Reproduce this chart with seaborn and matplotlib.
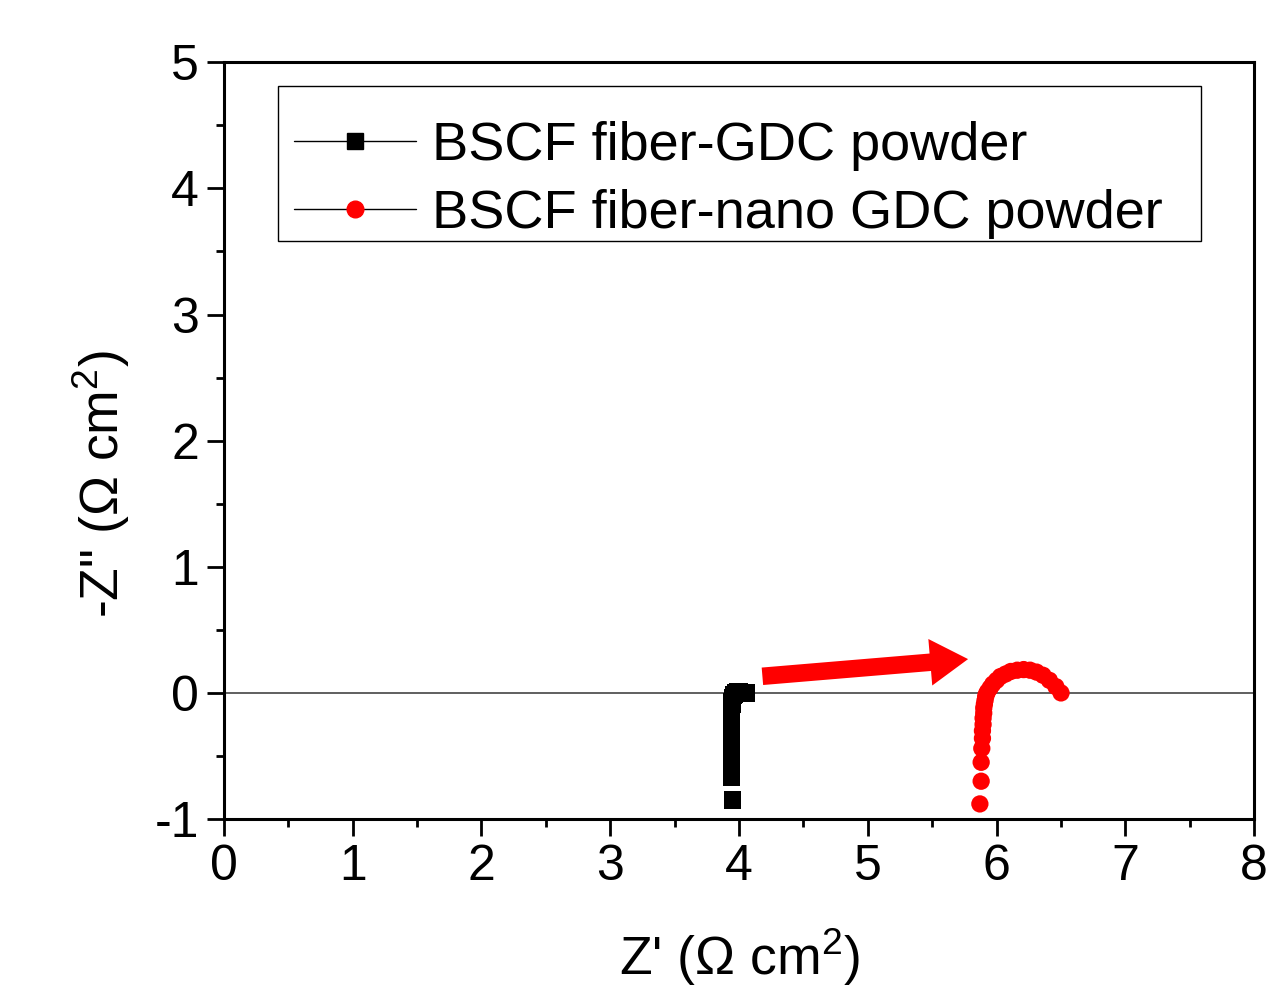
import numpy as np
import pandas as pd
import matplotlib
matplotlib.use("Agg")
import matplotlib.pyplot as plt
import seaborn as sns
from matplotlib.lines import Line2D
from matplotlib.patches import Rectangle
from matplotlib.ticker import MultipleLocator

# =====================================================
# Data
# =====================================================

gdc_x = [3.95, 3.94, 3.94, 3.94, 3.94, 3.94, 3.94, 3.94, 3.94, 3.94,
         3.94, 3.94, 3.94, 3.945, 3.945, 3.95, 3.95, 3.955, 3.96, 3.97,
         3.98, 3.99, 4.00, 4.02, 4.04, 4.06]
gdc_y = [-0.85, -0.67, -0.55, -0.48, -0.42, -0.37, -0.32, -0.28, -0.24, -0.20,
         -0.17, -0.14, -0.11, -0.09, -0.07, -0.05, -0.035, -0.02, -0.01, 0.0,
         0.005, 0.008, 0.008, 0.006, 0.004, 0.0]

nano_x = [5.87, 5.88, 5.88, 5.885, 5.89, 5.89, 5.895, 5.895, 5.90, 5.90,
          5.905, 5.91, 5.915, 5.92, 5.93, 5.95, 5.97, 6.00, 6.03, 6.07,
          6.11, 6.16, 6.21, 6.26, 6.31, 6.36, 6.41, 6.46, 6.50]
nano_y = [-0.88, -0.70, -0.55, -0.44, -0.36, -0.30, -0.25, -0.20, -0.16, -0.12,
          -0.09, -0.06, -0.03, -0.01, 0.01, 0.04, 0.07, 0.10, 0.13, 0.15,
          0.17, 0.18, 0.185, 0.18, 0.165, 0.14, 0.10, 0.05, 0.0]

labels = ["BSCF fiber-GDC powder", "BSCF fiber-nano GDC powder"]

arrow_start = (4.16, 0.13)
arrow_end = (5.80, 0.27)

df = pd.concat([
    pd.DataFrame({"x": gdc_x, "y": gdc_y, "sample": labels[0]}),
    pd.DataFrame({"x": nano_x, "y": nano_y, "sample": labels[1]}),
])

# =====================================================
# Plot
# =====================================================

sns.set_style("ticks")
plt.rcParams["font.family"] = ["Liberation Sans", "DejaVu Sans"]
plt.rcParams["mathtext.default"] = "regular"
plt.rcParams["axes.unicode_minus"] = False
plt.rcParams["text.color"] = "black"
plt.rcParams["xtick.color"] = "black"
plt.rcParams["ytick.color"] = "black"
plt.rcParams["axes.labelcolor"] = "black"

fig = plt.figure(figsize=(12.72, 9.88), dpi=100)
ax = fig.add_axes([0.176, 0.171, 0.810, 0.766])

ax.axhline(0, color="#444444", lw=1.2, zorder=1)

palette = {labels[0]: "black", labels[1]: "red"}
markers = {labels[0]: "s", labels[1]: "o"}
sns.scatterplot(data=df, x="x", y="y", hue="sample", style="sample",
                palette=palette, markers=markers, s=155, linewidth=0,
                legend=False, ax=ax, zorder=3)

ax.annotate("", xy=arrow_end, xytext=arrow_start,
            arrowprops=dict(arrowstyle="simple,head_length=1.3,head_width=1.6,tail_width=0.6",
                            color="red", lw=0, mutation_scale=21))

ax.set_xlim(0, 8)
ax.set_ylim(-1, 5)
ax.xaxis.set_major_locator(MultipleLocator(1))
ax.xaxis.set_minor_locator(MultipleLocator(0.5))
ax.yaxis.set_major_locator(MultipleLocator(1))
ax.yaxis.set_minor_locator(MultipleLocator(0.5))
ax.tick_params(which="major", direction="out", length=12, width=2, labelsize=36, pad=6)
ax.tick_params(which="minor", direction="out", length=6, width=2)
for sp in ax.spines.values():
    sp.set_linewidth(2.2)
    sp.set_color("black")

ax.set_xlabel("Z' (Ω cm$^2$)", fontsize=38.5)
ax.set_ylabel('-Z" (Ω cm$^2$)', fontsize=38.5)
ax.xaxis.set_label_coords(0.5, -0.142)
ax.yaxis.set_label_coords(-0.089, 0.443)

# legend entries (no frame) plus a plain box drawn around them
handles = [
    Line2D([], [], color="black", lw=1, marker="s", markersize=12,
           markerfacecolor="black", markeredgecolor="black"),
    Line2D([], [], color="black", lw=1, marker="o", markersize=12,
           markerfacecolor="red", markeredgecolor="red"),
]
ax.legend(handles, labels, loc="upper left", bbox_to_anchor=(0.053, 0.942),
          borderaxespad=0, fontsize=39, handlelength=2.25, handletextpad=0.3,
          borderpad=0.28, labelspacing=0.33, frameon=False)
ax.add_patch(Rectangle((0.053, 0.764), 0.895, 0.204, transform=ax.transAxes,
                       fill=False, edgecolor="black", lw=1.0, zorder=4))

plt.savefig("out.png", dpi=100)
plt.close()
